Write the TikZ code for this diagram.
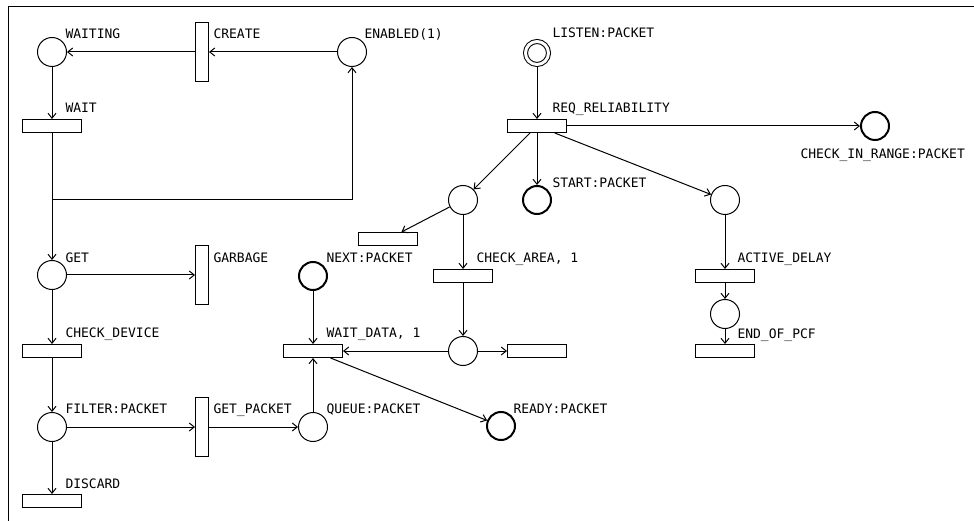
\documentclass[tikz,border=0pt]{standalone}
\usepackage{fontspec}
\newfontfamily\petrifont{DejaVu Sans Mono}
\usetikzlibrary{arrows.meta}
\begin{document}
\begin{tikzpicture}[x=1pt,y=-1pt,line width=1pt,
  place/.style={draw,circle,minimum size=29pt,inner sep=0pt},
  port/.style={place,line width=2pt,minimum size=28pt},
  entry/.style={draw,circle,double,double distance=3pt,minimum size=23pt,inner sep=0pt,outer sep=2.5pt},
  trans/.style={draw,rectangle,minimum width=59pt,minimum height=13pt,inner sep=0pt},
  vtrans/.style={draw,rectangle,minimum width=13pt,minimum height=59pt,inner sep=0pt},
  lbl/.style={font=\petrifont\fontsize{13}{15}\selectfont,inner sep=0pt,anchor=base west},
  arc/.style={-{Straight Barb[length=5pt,width=8pt]}}]
\useasboundingbox (0,0) rectangle (974,521);
% window frame
\draw (974,7) -- (8,7) -- (8,521);
% left column
\node[place] (waiting) at (52,52) {};
\node[vtrans] (create) at (202,52) {};
\node[place] (enabled) at (352,52) {};
\node[trans] (wait) at (52,126) {};
\node[place] (get) at (52,275) {};
\node[vtrans] (garbage) at (202,275) {};
\node[trans] (checkdev) at (52,351) {};
\node[place] (filter) at (52,427) {};
\node[vtrans] (getpkt) at (202,427) {};
\node[trans] (discard) at (52,501) {};
% middle column
\node[port] (next) at (313,276) {};
\node[trans] (waitdata) at (313,351) {};
\node[place] (queue) at (313,427) {};
\node[port] (ready) at (501,426) {};
% right part
\node[entry] (listen) at (537,53) {};
\node[trans] (req) at (537,126) {};
\node[port] (inrange) at (875,126) {};
\node[place] (split) at (463,200) {};
\node[port] (start) at (537,200) {};
\node[place] (delay) at (725,200) {};
\node[trans] (skip) at (388,239) {};
\node[trans] (area) at (463,276) {};
\node[place] (merge) at (463,351) {};
\node[trans] (done) at (537,351) {};
\node[trans] (active) at (725,276) {};
\node[place] (pcf) at (725,314) {};
\node[trans] (endpcf) at (725,351) {};
% labels
\node[lbl] (lwaiting) at (65,39) {WAITING};
\node[lbl] (lcreate) at (213,39) {CREATE};
\node[lbl] (lenabled) at (364,39) {ENABLED(1)};
\node[lbl] (llisten) at (552,38) {LISTEN:PACKET};
\node[lbl] (lwait) at (65,113) {WAIT};
\node[lbl] (lreq) at (552,113) {REQ\_RELIABILITY};
\node[lbl] (linrange) at (800,159) {CHECK\_IN\_RANGE:PACKET};
\node[lbl] (lstart) at (552,188) {START:PACKET};
\node[lbl] (lget) at (65,263) {GET};
\node[lbl] (lgarbage) at (213,263) {GARBAGE};
\node[lbl] (lnext) at (326,263) {NEXT:PACKET};
\node[lbl] (larea) at (476,263) {CHECK\_AREA, 1};
\node[lbl] (lactive) at (737,263) {ACTIVE\_DELAY};
\node[lbl] (lcheckdev) at (65,337) {CHECK\_DEVICE};
\node[lbl] (lwaitdata) at (326,337) {WAIT\_DATA, 1};
\node[lbl] (lendpcf) at (737,338) {END\_OF\_PCF};
\node[lbl] (lfilter) at (65,413) {FILTER:PACKET};
\node[lbl] (lgetpkt) at (213,413) {GET\_PACKET};
\node[lbl] (lqueue) at (326,413) {QUEUE:PACKET};
\node[lbl] (lready) at (513,413) {READY:PACKET};
\node[lbl] (ldiscard) at (65,488) {DISCARD};
% arcs
\coordinate (kink) at (352,200);
\draw[arc] (enabled) -- (create);
\draw[arc] (create) -- (waiting);
\draw[arc] (waiting) -- (wait);
\draw[arc] (wait) -- (get);
\draw[arc] (wait.south) |- (kink) -- (enabled);
\draw[arc] (get) -- (garbage);
\draw[arc] (get) -- (checkdev);
\draw[arc] (checkdev) -- (filter);
\draw[arc] (filter) -- (getpkt);
\draw[arc] (filter) -- (discard);
\draw[arc] (getpkt) -- (queue);
\draw[arc] (queue) -- (waitdata);
\draw[arc] (next) -- (waitdata);
\draw[arc] (merge) -- (waitdata);
\draw[arc] (merge) -- (done);
\draw[arc] (waitdata) -- (ready);
\draw[arc] (listen) -- (req);
\draw[arc] (req) -- (inrange);
\draw[arc] (req) -- (split);
\draw[arc] (req) -- (start);
\draw[arc] (req) -- (delay);
\draw[arc] (split) -- (skip);
\draw[arc] (split) -- (area);
\draw[arc] (area) -- (merge);
\draw[arc] (delay) -- (active);
\draw[arc] (active) -- (pcf);
\draw[arc] (pcf) -- (endpcf);
\end{tikzpicture}
\end{document}
